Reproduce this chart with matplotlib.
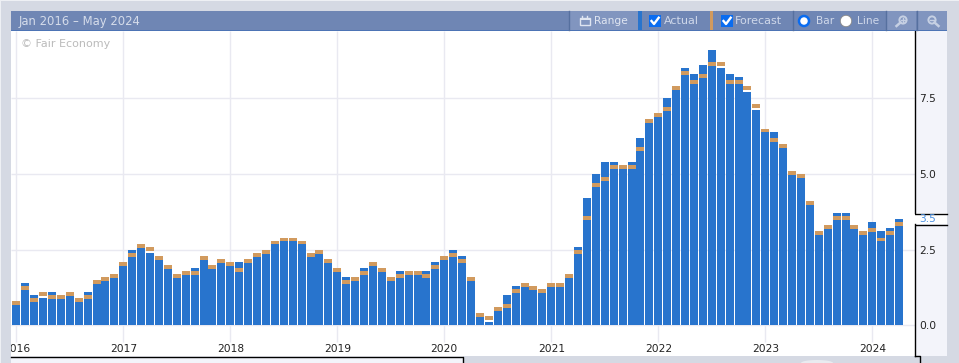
#Import necessary libraries
import matplotlib
matplotlib.use("Agg")
import matplotlib.pyplot as plt
from matplotlib.patches import Rectangle, Circle, Ellipse

#Values, one per month from Jan 2016
actual = [0.7, 1.4, 1.0, 0.9, 1.1, 1.0, 1.0, 0.8, 1.1, 1.5, 1.6, 1.7,
          2.1, 2.5, 2.7, 2.4, 2.2, 1.9, 1.6, 1.7, 1.9, 2.2, 2.0, 2.2,
          2.1, 2.1, 2.2, 2.4, 2.5, 2.8, 2.9, 2.9, 2.7, 2.3, 2.5, 2.2,
          1.9, 1.6, 1.5, 1.9, 2.0, 1.8, 1.6, 1.8, 1.7, 1.7, 1.8, 2.1,
          2.3, 2.5, 2.3, 1.5, 0.3, 0.1, 0.6, 1.0, 1.3, 1.4, 1.2, 1.2,
          1.4, 1.4, 1.7, 2.6, 4.2, 5.0, 5.4, 5.4, 5.3, 5.4, 6.2, 6.8,
          7.0, 7.5, 7.9, 8.5, 8.3, 8.6, 9.1, 8.5, 8.3, 8.2, 7.7, 7.1,
          6.5, 6.4, 6.0, 5.0, 4.9, 4.0, 3.0, 3.2, 3.7, 3.7, 3.2, 3.1,
          3.4, 3.1, 3.2, 3.5]
forecast = [0.8, 1.3, 0.9, 1.1, 1.0, 1.0, 1.1, 0.9, 1.0, 1.5, 1.6, 1.7,
            2.1, 2.4, 2.7, 2.6, 2.3, 2.0, 1.7, 1.8, 1.8, 2.3, 2.0, 2.2,
            2.1, 1.9, 2.2, 2.4, 2.5, 2.8, 2.9, 2.9, 2.8, 2.4, 2.5, 2.2,
            1.9, 1.5, 1.6, 1.8, 2.1, 1.9, 1.6, 1.7, 1.8, 1.8, 1.7, 2.0,
            2.3, 2.4, 2.2, 1.6, 0.4, 0.3, 0.6, 0.7, 1.2, 1.4, 1.3, 1.2,
            1.4, 1.4, 1.7, 2.5, 3.6, 4.7, 4.9, 5.3, 5.3, 5.3, 5.9, 6.8,
            7.0, 7.2, 7.9, 8.4, 8.1, 8.3, 8.7, 8.7, 8.1, 8.1, 7.9, 7.3,
            6.5, 6.2, 6.0, 5.1, 5.0, 4.1, 3.1, 3.3, 3.6, 3.6, 3.3, 3.1,
            3.2, 2.9, 3.1, 3.4]
years = [2016, 2017, 2018, 2019, 2020, 2021, 2022, 2023, 2024]
y_ticks = [0.0, 2.5, 5.0, 7.5]

W, H = 959, 363
GREY = "#d5d9e3"
PANEL = "#f3f4fa"
HEAD = "#6f86b4"
HEAD_LIGHT = "#8195bf"
HEAD_TXT = "#dfe5f1"
BLUE = "#2874cd"
ORANGE = "#d19a5e"
GRID = "#e9e9f1"
TICK = "#222222"
FS = 7.7

fig = plt.figure(figsize=(W / 100, H / 100), dpi=100, facecolor=GREY)

#Background layer in pixel coordinates for the page and the widget frame
bg = fig.add_axes([0, 0, 1, 1], zorder=0)
bg.set_xlim(0, W)
bg.set_ylim(H, 0)
bg.axis("off")
bg.add_patch(Rectangle((0, 0), W, 1, color="#eef0f4", lw=0))
bg.add_patch(Rectangle((0, 0), 1, H, color="#eef0f4", lw=0))
bg.add_patch(Rectangle((914, 30), 33, 326, color=PANEL, lw=0))
bg.add_patch(Rectangle((914, 213), 33, 11, color="white", lw=0))
bg.add_patch(Rectangle((11, 356), 452, 7, color=PANEL, lw=0))
bg.add_patch(Ellipse((817, 363), 32, 6, color="#e9ebf0", lw=0))
bg.plot([914.5, 947], [213.5, 213.5], color="black", lw=1)
bg.plot([914.5, 947], [224.5, 224.5], color="black", lw=1)
bg.plot([11, 462.5, 462.5], [356.5, 356.5, 363], color="black", lw=1)
bg.plot([914.5, 919.5, 919.5], [355.5, 355.5, 363], color="black", lw=1)
bg.text(919, 219, "3.5", color="#4a90e2", fontsize=FS, va="center", ha="left")

#Main chart, limits chosen so that 2016 sits at px 16.3 and 1 year is 107 px
left, right, top, bottom = 11, 914.5, 30.5, 356
px_year = 107.0
px_unit = 30.27
zero_y = 325.3
ax = fig.add_axes([left / W, 1 - bottom / H, (right - left) / W, (bottom - top) / H], zorder=1)
ax.set_xlim(2016 + (left - 16.3) / px_year, 2016 + (right - 16.3) / px_year)
ax.set_ylim((zero_y - bottom) / px_unit, (zero_y - top) / px_unit)

x = [2016 + i / 12 for i in range(len(actual))]
bar_w = 8.0 / px_year
fc_h = 0.13
ymin, ymax = ax.get_ylim()

ax.hlines(y_ticks, ax.get_xlim()[0], ax.get_xlim()[1], color=GRID, lw=1, zorder=1)
ax.vlines(years, -0.55, ymax, color=GRID, lw=1, zorder=1)
ax.bar(x, actual, width=bar_w, color=BLUE, lw=0, zorder=2)
ax.bar(x, [fc_h] * len(forecast), bottom=[f - fc_h for f in forecast], width=bar_w, color=ORANGE, lw=0, zorder=3)

#Year labels sit inside the axes, 2016 is cut by the left edge
for yr in years:
    ax.text(yr, -0.78, str(yr), color=TICK, fontsize=FS, ha="center", va="center", clip_on=True)

ax.set_xticks([])
ax.yaxis.tick_right()
ax.set_yticks(y_ticks)
ax.set_yticklabels(["%.1f" % v for v in y_ticks], color=TICK, fontsize=FS)
ax.tick_params(axis="y", length=0, pad=3.5)
for s in ["top", "left", "bottom"]:
    ax.spines[s].set_visible(False)
ax.spines["right"].set_bounds((zero_y - bottom) / px_unit, (zero_y - 224) / px_unit)
ax.spines["right"].set_linewidth(1)
ax.plot([1, 1], [(zero_y - 213) / px_unit, ymax], color="black", lw=1, clip_on=False,
        transform=ax.get_yaxis_transform())
ax.text(21, 44, "© Fair Economy", color="#bbbbbb", fontsize=8.0,
        va="center", transform=bg.transData)

#Toolbar on top, again in pixel coordinates
tb = fig.add_axes([0, 0, 1, 1], zorder=2)
tb.set_xlim(0, W)
tb.set_ylim(H, 0)
tb.axis("off")
tb.patch.set_alpha(0)
tb.add_patch(Rectangle((11, 11), 936, 19, color=HEAD, lw=0))
tb.add_patch(Rectangle((11, 30), 936, 1, color="#4d74b5", lw=0))
tb.add_patch(Rectangle((570, 11), 67.5, 19, color=HEAD_LIGHT, lw=0))
tb.add_patch(Rectangle((886, 11), 30, 19, color=HEAD_LIGHT, lw=0))
tb.add_patch(Rectangle((917, 11), 30, 19, color=HEAD_LIGHT, lw=0))
tb.add_patch(Rectangle((638, 11), 4, 19, color=BLUE, lw=0))
tb.add_patch(Rectangle((710, 11), 3, 19, color=ORANGE, lw=0))
for sx in [569, 792.5, 885.5, 916.5]:
    tb.plot([sx, sx], [11, 30], color="#56709f", lw=1)

tb.text(19, 21, "Jan 2016 – May 2024", color="#d5dcea", fontsize=8.4, va="center")
tb.text(594, 21, "Range", color=HEAD_TXT, fontsize=FS, va="center")
tb.text(664, 21, "Actual", color="#cfd8ea", fontsize=8.0, va="center")
tb.text(735, 21, "Forecast", color="#cfd8ea", fontsize=8.0, va="center")
tb.text(816, 21, "Bar", color="#cfd8ea", fontsize=FS, va="center")
tb.text(857, 21, "Line", color="#cfd8ea", fontsize=FS, va="center")

#Calendar icon
tb.add_patch(Rectangle((579.5, 17.5), 10, 7.5, fill=False, ec=HEAD_TXT, lw=1))
tb.add_patch(Rectangle((579.5, 17.5), 10, 2.5, color=HEAD_TXT, lw=0))
tb.plot([582, 582], [15.5, 18], color=HEAD_TXT, lw=1)
tb.plot([587, 587], [15.5, 18], color=HEAD_TXT, lw=1)

#Check boxes
for cx in [649, 721]:
    tb.add_patch(Rectangle((cx, 15), 12, 12, color="#0a6cf0", lw=0))
    tb.plot([cx + 2.5, cx + 5, cx + 9.7], [21, 24, 17.7], color="white", lw=1.7)

#Radio buttons
tb.add_patch(Circle((804, 21), 5, fc="white", ec="#0a6cf0", lw=1.8))
tb.add_patch(Circle((846, 21), 5.7, fc="white", ec="#8a8a8a", lw=0.6))

#Zoom icons, the handle of the first leans left and of the second right
for zx, hand, plus in [(903, -1, True), (932, 1, False)]:
    tb.add_patch(Circle((zx, 20), 3.6, fill=False, ec="#c6d0e3", lw=1.4))
    tb.plot([zx + 2.5 * hand, zx + 6.5 * hand], [22.5, 26], color="#c6d0e3", lw=1.8)
    tb.plot([zx - 2, zx + 2], [20, 20], color="#c6d0e3", lw=1)
    if plus:
        tb.plot([zx, zx], [18, 22], color="#c6d0e3", lw=1)

fig.savefig("out.png", dpi=100, facecolor=GREY)
